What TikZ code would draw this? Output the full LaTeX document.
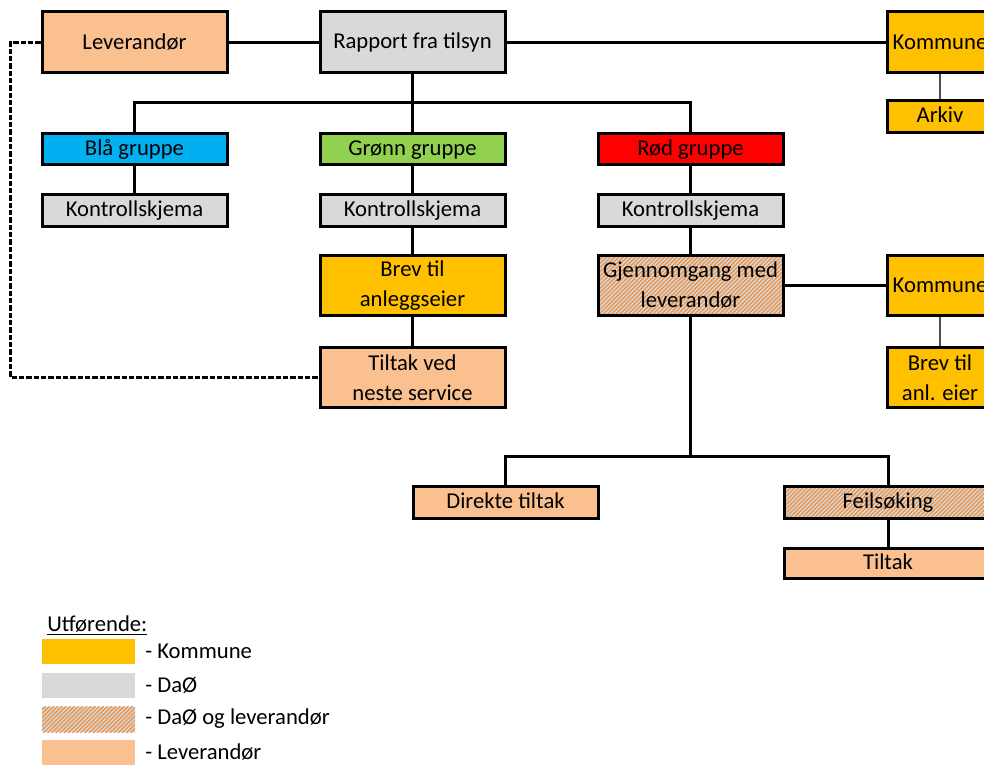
\documentclass[tikz,border=0pt]{standalone}
\usepackage{fontspec}
\setmainfont{Carlito}
\usetikzlibrary{patterns.meta}
\definecolor{komc}{HTML}{FFC000}
\definecolor{daoc}{HTML}{D9D9D9}
\definecolor{levc}{HTML}{FAC090}
\definecolor{bluec}{HTML}{00B0F0}
\definecolor{greenc}{HTML}{92D050}
\definecolor{redc}{HTML}{FF0000}
\definecolor{hatchc}{HTML}{E8924A}
\begin{document}
\begin{tikzpicture}[x=0.75pt,y=-0.75pt,
  box/.style={draw=black, line width=2.25pt, inner sep=0pt, align=center,
    font=\fontsize{17}{22.5}\selectfont, text=black},
  wide/.style={minimum width=138.75pt},
  narrow/.style={minimum width=79.5pt},
  tall/.style={minimum height=45.5pt},
  low/.style={minimum height=23.5pt, text depth=3pt, text height=12.5pt},
  kom/.style={fill=komc},
  dao/.style={fill=daoc},
  lev/.style={fill=levc},
  hatched/.style={preaction={fill=daoc}, pattern={Lines[angle=45, distance=2.2pt, line width=1pt]}, pattern color=hatchc},
  conn/.style={line width=2.25pt, black},
  thin/.style={line width=0.9pt, black!70},
  dashconn/.style={line width=2.25pt, black, dash pattern=on 4pt off 1.5pt},
  swatch/.style={draw=none, minimum width=69.75pt, minimum height=19pt, inner sep=0pt},
  legtext/.style={anchor=west, inner sep=0pt, font=\fontsize{17}{20}\selectfont}
]
\fill[white] (0,0) rectangle (984,764);
\useasboundingbox (0,0) rectangle (984,764);

\node[box, wide, tall, lev] (lev) at (134.5,42) {Leverandør};
\node[box, wide, tall, dao] (rap) at (412.5,42) {Rapport fra tilsyn};
\node[box, narrow, tall, kom] (kom1) at (940,42) {Kommune};
\node[box, narrow, low, kom, minimum height=24pt] (ark) at (940,116) {Arkiv};

\node[box, wide, low, fill=bluec] (bla) at (134.5,149) {Blå gruppe};
\node[box, wide, low, fill=greenc] (gro) at (412.5,149) {Grønn gruppe};
\node[box, wide, low, fill=redc] (rod) at (690.5,149) {Rød gruppe};

\node[box, wide, low, dao] (ks1) at (134.5,210.5) {Kontrollskjema};
\node[box, wide, low, dao] (ks2) at (412.5,210.5) {Kontrollskjema};
\node[box, wide, low, dao] (ks3) at (690.5,210.5) {Kontrollskjema};

\node[box, wide, tall, kom] (brev) at (412.5,285.5) {Brev til\\anleggseier};
\node[box, wide, tall, hatched] (gjen) at (690.5,285.5) {Gjennomgang med\\leverandør};
\node[box, narrow, tall, kom] (kom2) at (940,285.5) {Kommune};
\node[box, narrow, tall, kom] (brev2) at (940,377.5) {Brev til\\anl. eier};
\node[box, wide, tall, lev] (tilt) at (412.5,377.5) {Tiltak ved\\neste service};

\node[box, wide, low, lev] (dir) at (505.5,502.5) {Direkte tiltak};
\node[box, low, hatched, minimum width=156pt] (feil) at (888,502.5) {Feilsøking};
\node[box, low, lev, minimum width=156pt, minimum height=22.5pt] (tiltak) at (888,563) {Tiltak};

% connectors
\draw[conn] (lev.east) -- (rap.west);
\draw[conn] (rap.east) -- (kom1.west);
\draw[thin] (kom1.south) -- (ark.north);
\coordinate (bus1) at (412.5,102);
\draw[conn] (rap.south) -- (bus1);
\draw[conn] (bla.north) |- (bus1) -| (rod.north);
\draw[conn] (bus1) -- (gro.north);
\draw[conn] (bla.south) -- (ks1.north);
\draw[conn] (gro.south) -- (ks2.north);
\draw[conn] (rod.south) -- (ks3.north);
\draw[conn] (ks2.south) -- (brev.north);
\draw[conn] (brev.south) -- (tilt.north);
\draw[conn] (ks3.south) -- (gjen.north);
\draw[conn] (gjen.east) -- (kom2.west);
\draw[thin] (kom2.south) -- (brev2.north);
\coordinate (bus2) at (690.5,456);
\draw[conn] (gjen.south) -- (bus2);
\draw[conn] (dir.north) |- (bus2) -| (feil.north);
\draw[conn] (feil.south) -- (tiltak.north);
\draw[dashconn] (lev.west) -- ++(-30,0) |- (tilt.west);

% legend
\node[legtext] (legh) at (47,625) {\underline{Utførende:}};
\node[swatch, fill=komc] (s1) at (88.5,651.5) {};
\node[swatch, fill=daoc] (s2) at (88.5,685.5) {};
\node[swatch, hatched] (s3) at (88.5,719.5) {};
\node[swatch, fill=levc] (s4) at (88.5,752.5) {};
\node[legtext] (l1) at (145,651) {- Kommune};
\node[legtext] (l2) at (145,685) {- DaØ};
\node[legtext] (l3) at (145,719) {- DaØ og leverandør};
\node[legtext] (l4) at (145,752) {- Leverandør};
\end{tikzpicture}
\end{document}
